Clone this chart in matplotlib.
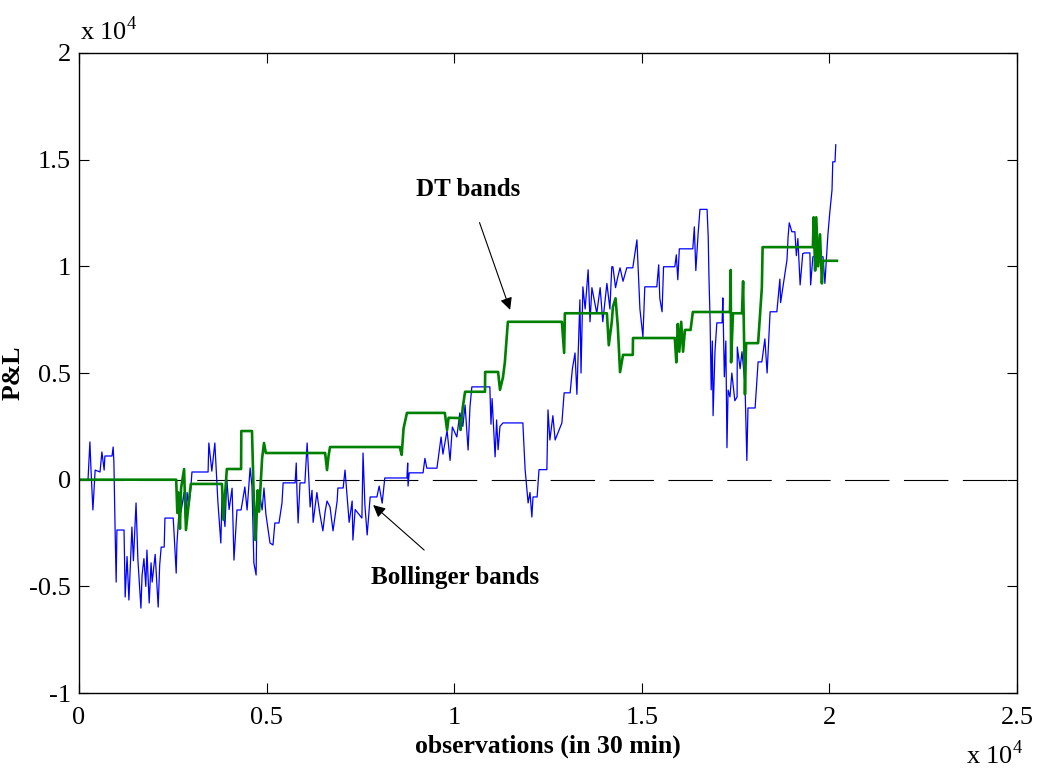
import numpy as np
import matplotlib
matplotlib.use('Agg')
from matplotlib import pyplot as plt

plt.rcParams['font.family'] = ['Liberation Serif', 'DejaVu Serif']
plt.rcParams['mathtext.fontset'] = 'custom'
plt.rcParams['mathtext.rm'] = 'Liberation Serif'

# Bollinger bands P&L (observation index, value)
blue_x = [0, 240, 290, 320, 370, 430, 560, 610, 670, 690, 880, 910, 930, 960, 990,
          1010, 1200, 1230, 1280, 1330, 1410, 1450, 1520, 1570, 1650, 1680, 1730, 1780,
          1810, 1870, 1920, 1950, 2030, 2110, 2150, 2190, 2270, 2290, 2510, 2530, 2590,
          2610, 2690, 2720, 2800, 2850, 2880, 2930, 2980, 3010, 3440,
          3460, 3540, 3620, 3700, 3780, 3810, 3890, 3940, 4000, 4080, 4130, 4210, 4320,
          4420, 4480, 4560, 4610, 4660, 4720, 4740, 4800, 4880, 4930, 4980, 5090, 5170,
          5220, 5330, 5410, 5440, 5760, 5790, 5810, 5840, 5890, 6020, 6080, 6160, 6210,
          6240, 6340, 6370, 6420, 6500, 6560, 6610, 6690, 6770, 6880, 6900, 7040, 7090,
          7200, 7280, 7300, 7360, 7540, 7570, 7620, 7680, 7760, 7940, 8000, 8080, 8150,
          8740, 8760, 8770, 8800, 9170, 9220, 9270, 9540, 9650, 9700, 9810, 9890, 9950,
          10070, 10150, 10230, 10290, 10370, 10420, 10470, 10950, 10980, 11010, 11090,
          11130, 11170, 11220, 11300, 11830, 11890, 11970, 12020, 12070, 12100, 12210,
          12260, 12470, 12500, 12550, 12630, 12690, 12870, 12930, 13090, 13150, 13220,
          13270, 13350, 13380, 13430, 13490, 13570, 13620, 13670, 13800, 13890, 13960,
          14070, 14150, 14200, 14230, 14300, 14360, 14420, 14500, 14600, 14760, 14870,
          14950, 15030, 15080, 15350, 15400, 15450, 15480, 15540, 15580, 15880, 15920,
          15960, 16000, 16360, 16400, 16440, 16500, 16550, 16740, 16770, 16790, 16820,
          16850, 16880, 16900, 16950, 17000, 17140, 17160, 17200, 17240, 17270, 17300,
          17350, 17400, 17480, 17540, 17545, 17620, 17670, 17750, 17800, 17830, 18020,
          18100, 18200, 18280, 18340, 18420, 18600, 18680, 18700, 18870, 18900, 18930,
          19000, 19080, 19120, 19160, 19220, 19290, 19350, 19480, 19500, 19560, 19830,
          19880, 19960, 20010, 20070, 20090, 20150, 20170]
blue_y = [0, 0, 1770, 450, -1420, 450, 360, 1300, 450, 1110, 1110, 1530, 800, -2200, -4800,
          -2360, -2360, -5500, -3600, -5640, -2220, -3800, -1090, -3770, -6020, -4500, -3700, -5000,
          -3300, -5780, -3900, -4800, -3500, -5970, -4000, -3160, -3160, -1800, -1800, -2400, -4380,
          -3000, -810, -1500, -600, -2200, -600, -1200, -400, 360, 360,
          1720, 400, 1720, -1000, -2970, -800, -2200, 0, -1400, -400, -3770, -1420, -1420,
          -340, -1420, 550, -300, -3900, -4470, -1800, -480, -1420, -390, -1600, -2970, -3060,
          -2030, -2030, -1090, -150, -150, 780, -620, -2030, -150, -150, 1720, -1280, -500,
          -2000, -600, -1000, -1600, -2400, -1500, -1000, -1280, -2400, -1000, -390, -390, 450,
          -2000, -1000, -2830, -1400, -1800, 1250, -1200, -2590, -810, -810, -300, -1100, 80,
          80, 780, -300, 320, 320, 1000, 540, 540, 2000, 1200, 2300, 900, 2470,
          2000, 3130, 2500, 3500, 1390, 3400, 4350, 4350, 2600, 3800, 1070,
          2800, 1400, 2500, 2660, 2660, 470, -1090, -600, -1750, -810, -810,
          470, 470, 3270, 1860, 3000, 1860, 2660, 4070, 4070, 5200, 5940,
          4000, 8430, 5000, 9040, 8000, 9840, 7400, 9000, 7800, 9000, 7400,
          9200, 8000, 9980, 9980, 9000, 9500, 9930, 9300, 9930, 9930, 11240,
          8000, 6690, 9040, 9040, 9040, 10070, 8500, 7870, 9980, 9980, 10540,
          9370, 10820, 10820, 11850, 9800, 11500, 12670, 12670, 11390, 9510, 7500,
          4210, 6500, 3000, 6000, 7350, 7350, 8520, 4820, 6500, 1500, 4200,
          3880, 5000, 3700, 3880, 6220, 5200, 6000, 4500, 900, 3360, 3360,
          5520, 5520, 6600, 5000, 7870, 7870, 9400, 8300, 10310, 11400, 12040,
          11620, 11620, 10500, 11300, 9130, 10600, 10630, 10630, 9130, 10450, 10450,
          9200, 11480, 12510, 13580, 14900, 14900, 15700]

# DT bands P&L
green_x = [0, 2590, 2620, 2650, 2690, 2720, 2800, 2850, 2930, 2980, 3810, 3850, 3900,
           3940, 4320, 4325, 4610, 4660, 4700, 4760, 4800, 4880, 4930, 4980, 6560, 6610,
           6650, 6690, 8550, 8600, 8650, 8740, 9750, 9810, 9850, 10150, 10170, 10230,
           10290, 10820, 10825, 11170, 11220, 11300, 11350, 11430, 12870, 12930, 12950,
           14070, 14120, 14200, 14230, 14300, 14360, 14420, 14500, 14760, 14765, 15880,
           15920, 15960, 16000, 16050, 16100, 16150, 16300, 16360, 17350, 17370, 17380,
           17430, 17670, 17700, 17750, 17780, 18100, 18200, 18220, 19560, 19580, 19620,
           19650, 19700, 19750, 19800, 19830, 20200]
green_y = [0, 0, -1560, -600, -2300, -400, 500, -2360, -1000, -200, -200, -1880, -500,
           500, 500, 2280, 2280, -1000, -2830, -500, -1500, 1000, 1720, 1250, 1250, 450,
           1100, 1530, 1530, 1160, 2400, 3130, 3130, 2330, 2900, 2890, 2330, 3410,
           4120, 4120, 5050, 5050, 4210, 4800, 5500, 7400, 7400, 5940, 7800,
           7800, 6300, 7400, 8100, 8500, 7200, 5040, 5850, 5850, 6640, 6640,
           5500, 7300, 6000, 7400, 6000, 7020, 7020, 7860, 7860, 9830, 5500,
           7800, 7800, 9300, 4000, 6400, 6400, 9000, 10900, 10900, 12300, 9800,
           12300, 10000, 11500, 9200, 10260, 10260]

x_ticks = [0, 5000, 10000, 15000, 20000, 25000]
x_labels = ['0', '0.5', '1', '1.5', '2', '2.5']
y_ticks = [-10000, -5000, 0, 5000, 10000, 15000, 20000]
y_labels = ['-1', '-0.5', '0', '0.5', '1', '1.5', '2']

fig = plt.figure(figsize=(10.37, 7.69), dpi=100)
ax = fig.add_axes([0.0762, 0.0988, 0.9045, 0.8323])

ax.plot([0, 25000], [0, 0], color='black', lw=0.8, linestyle=(0, (40, 13)))
ax.plot(blue_x, blue_y, color='#0000ff', lw=0.9)
ax.plot(green_x, green_y, color='#008000', lw=1.9)

ax.set_xlim(0, 25000)
ax.set_ylim(-10000, 20000)
ax.set_xticks(x_ticks)
ax.set_xticklabels(x_labels)
ax.set_yticks(y_ticks)
ax.set_yticklabels(y_labels)
ax.tick_params(direction='in', length=7, width=0.8, labelsize=19,
               top=True, right=True, pad=6)
ax.tick_params(axis='x', pad=10)
for s in ax.spines.values():
    s.set_linewidth(1.0)

ax.set_xlabel('observations (in 30 min)', fontsize=18.5, fontweight='bold', labelpad=4)
ax.set_ylabel('P&L', fontsize=18.5, fontweight='bold')
ax.yaxis.set_label_coords(-0.058, 0.5)

fig.text(0.077, 0.942, r'x 10$^{4}$', fontsize=19, ha='left', va='bottom')
fig.text(0.932, 0.0, r'x 10$^{4}$', fontsize=19, ha='left', va='bottom')

ax.annotate('DT bands', xy=(11490, 7960), xytext=(10370, 13580),
            fontsize=18, fontweight='bold', ha='center', va='center',
            arrowprops=dict(arrowstyle='-|>', color='black', lw=0.8,
                            mutation_scale=18, shrinkA=14, shrinkB=0))
ax.annotate('Bollinger bands', xy=(7840, -1190), xytext=(10020, -4570),
            fontsize=18, fontweight='bold', ha='center', va='center',
            arrowprops=dict(arrowstyle='-|>', color='black', lw=0.8,
                            mutation_scale=18, shrinkA=14, shrinkB=0))

plt.savefig('out.png', dpi=100)
